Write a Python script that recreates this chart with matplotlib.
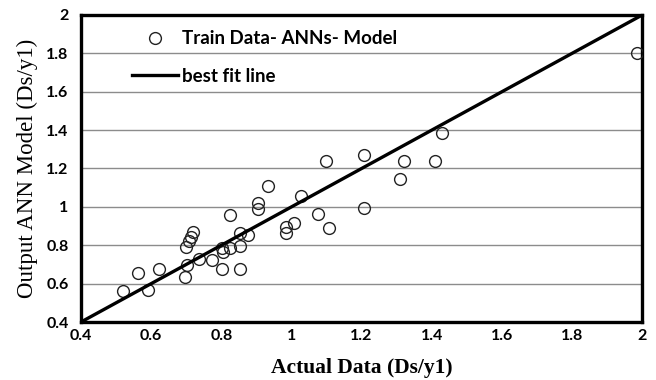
import numpy as np
import matplotlib
matplotlib.use("Agg")
import matplotlib.pyplot as plt

# datos
actual = [0.521, 0.563, 0.592, 0.622, 0.697, 0.701, 0.700, 0.709, 0.713, 0.720,
          0.735, 0.773, 0.801, 0.806, 0.825, 0.801, 0.852, 0.853, 0.853, 0.877,
          0.824, 0.904, 0.904, 0.933, 0.985, 0.985, 1.007, 1.027, 1.076, 1.106,
          1.098, 1.207, 1.207, 1.308, 1.321, 1.410, 1.429, 1.985]
modelo = [0.563, 0.654, 0.567, 0.675, 0.636, 0.699, 0.793, 0.822, 0.845, 0.869,
          0.730, 0.725, 0.784, 0.763, 0.784, 0.676, 0.676, 0.798, 0.862, 0.852,
          0.956, 1.019, 0.988, 1.109, 0.897, 0.866, 0.918, 1.057, 0.963, 0.890,
          1.241, 1.270, 0.996, 1.147, 1.241, 1.241, 1.387, 1.800]
linea = [0.4, 2.0]
ticks = [0.4, 0.6, 0.8, 1.0, 1.2, 1.4, 1.6, 1.8, 2.0]
tick_labels = ['0.4', '0.6', '0.8', '1', '1.2', '1.4', '1.6', '1.8', '2']

fig = plt.figure(figsize=(6.56, 3.80), dpi=100)
ax = fig.add_axes([0.1235, 0.1526, 0.8555, 0.808])

ax.plot(actual, modelo, 'o', ms=8.5, mfc='none', mec='#222222', mew=1.0,
        label='Train Data- ANNs- Model', zorder=3)
ax.plot(linea, linea, color='black', lw=2.4, label='best fit line', zorder=4)

ax.set_xlim(0.4, 2.0)
ax.set_ylim(0.4, 2.0)
ax.set_xticks(ticks)
ax.set_xticklabels(tick_labels)
ax.set_yticks(ticks)
ax.set_yticklabels(tick_labels)
ax.yaxis.grid(True, color='#8c8c8c', lw=1.0)
ax.set_axisbelow(True)
ax.tick_params(axis='x', length=0, pad=5, labelsize=11.5)
ax.tick_params(axis='y', length=0, pad=9, labelsize=11.5)
for lbl in ax.get_xticklabels() + ax.get_yticklabels():
    lbl.set_fontweight('bold')
    lbl.set_family('Lato')
for s in ax.spines.values():
    s.set_linewidth(2.4)
    s.set_color('black')

ax.set_xlabel('Actual Data (Ds/y1)', family='Liberation Serif', fontsize=15.5,
              fontweight='bold', labelpad=11)
ax.set_ylabel('Output ANN Model (Ds/y1)', family='Liberation Serif', fontsize=16.5,
              labelpad=6)

leg = ax.legend(loc='upper left', bbox_to_anchor=(0.06, 1.005), frameon=False,
                prop={'family': 'Lato', 'weight': 'bold', 'size': 13.5},
                handlelength=2.5, labelspacing=1.1, handletextpad=0.2)

fig.savefig('out.png', dpi=100)
